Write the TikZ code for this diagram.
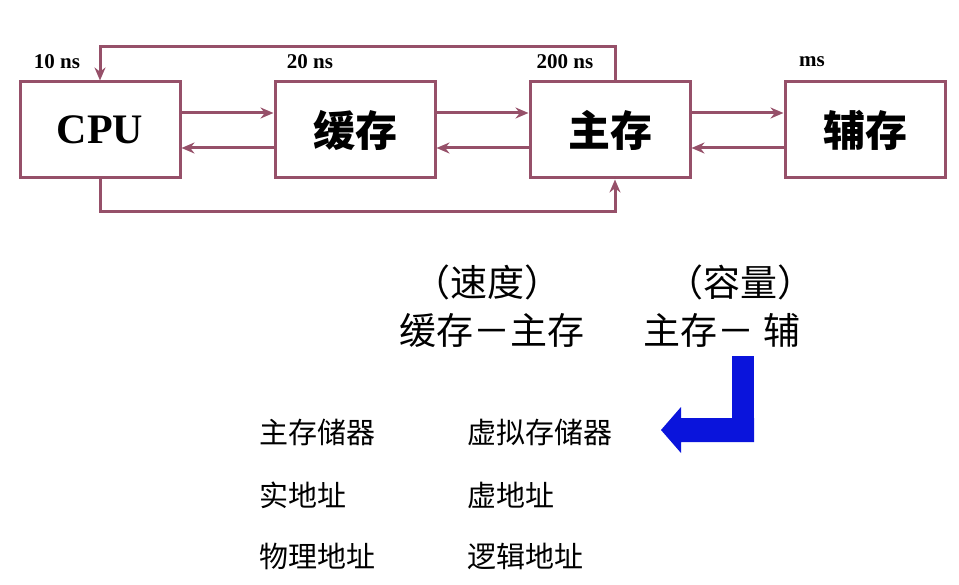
\documentclass[tikz,border=0pt]{standalone}
\usepackage{fontspec}
\setmainfont{Liberation Serif}
\newfontfamily\cjk{Noto Sans CJK SC}
\usetikzlibrary{arrows.meta}
\definecolor{bord}{RGB}{150,80,105}
\definecolor{arrb}{RGB}{10,20,220}
\begin{document}
\begin{tikzpicture}[x=1pt,y=-1pt,
  box/.style={draw=bord,line width=3pt,minimum width=160pt,minimum height=96pt,inner sep=0pt,font=\bfseries\fontsize{42}{42}\selectfont},
  con/.style={draw=bord,line width=3pt,-{Stealth[length=13pt,width=11pt]}},
  lab/.style={font=\bfseries\fontsize{21}{21}\selectfont},
  big/.style={font=\cjk\fontsize{37}{37}\selectfont},
  lst/.style={font=\cjk\fontsize{29}{29}\selectfont,anchor=west}]
\useasboundingbox (0,0) rectangle (959,585);
\node[box] (cpu) at (100,130) {CPU};
\node[box] (cache) at (355,130) {\cjk 缓存};
\node[box] (main) at (610,130) {\cjk 主存};
\node[box] (aux) at (865,130) {\cjk 辅存};
\foreach \a/\b in {cpu/cache,cache/main,main/aux}{
  \draw[con] ([yshift=17pt]\a.east) -- ([yshift=17pt]\b.west);
  \draw[con] ([yshift=-18pt]\b.west) -- ([yshift=-18pt]\a.east);}
\coordinate (t2) at (100,47);
\draw[con] ([xshift=5pt]main.north) |- (t2) -- (cpu.north);
\coordinate (b1) at (100,212);
\draw[con] (cpu.south) -- (b1) -| ([xshift=5pt]main.south);
\node[lab] (l1) at (57,62) {10 ns};
\node[lab] (l2) at (310,62) {20 ns};
\node[lab] (l3) at (565,62) {200 ns};
\node[lab] (l4) at (812,62) {ms};
\node[big] (s1) at (487,282) {（速度）};
\node[big] (s2) at (740,282) {（容量）};
\node[big] (s3) at (492,330) {缓存－主存};
\node[big] (s4) at (722,330) {主存－ 辅};
\fill[arrb] (732,356) rectangle (754,418);
\fill[arrb] (754,418) -- (754,442) -- (681,442) -- (681,453) -- (661,430) -- (681,407) -- (681,418) -- cycle;
\node[lst] (a1) at (256,432) {主存储器};
\node[lst] (a2) at (464,432) {虚拟存储器};
\node[lst] (b1n) at (256,495) {实地址};
\node[lst] (b2) at (464,495) {虚地址};
\node[lst] (c1) at (256,556) {物理地址};
\node[lst] (c2) at (464,556) {逻辑地址};
\end{tikzpicture}
\end{document}
